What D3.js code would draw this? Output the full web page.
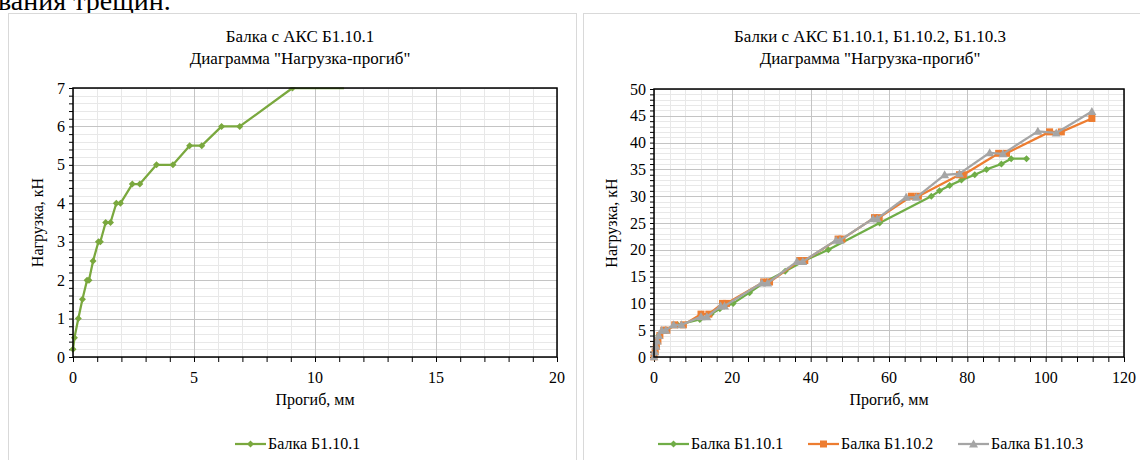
<!DOCTYPE html>
<html>
<head>
<meta charset="utf-8">
<script src="https://cdn.jsdelivr.net/npm/d3@7"></script>
<style>
body { margin: 0; background: #fff; }
svg { display: block; }
</style>
</head>
<body>
<svg width="1140" height="460" font-family="'Liberation Serif', 'DejaVu Serif', serif"></svg>
<script>
// Балка Б1.10.1 (left chart); the last point lies above the 7 kN axis limit
var leftDefl = [0, 0.06, 0.22, 0.39, 0.58, 0.66, 0.83, 1.05, 1.13, 1.35, 1.55, 1.79, 1.96, 2.45, 2.76, 3.45, 4.13, 4.82, 5.32, 6.14, 6.89, 9.07, 11.2];
var leftLoad = [0.2, 0.5, 1.0, 1.5, 2.0, 2.0, 2.5, 3.0, 3.0, 3.5, 3.5, 4.0, 4.0, 4.5, 4.5, 5.0, 5.0, 5.5, 5.5, 6.0, 6.0, 7.0, 7.5];

// right chart, three beams
var b1Defl = [0, 0.3, 0.6, 0.9, 1.2, 2.5, 6, 11.7, 14.6, 16.8, 20.2, 24.4, 28.3, 33.5, 38.5, 44.5, 57.6, 70.8, 72.9, 75.5, 78.5, 81.9, 84.9, 88.7, 91.2, 95.1];
var b1Load = [0, 1, 2, 3, 4, 5, 6, 7, 8, 9, 10, 12, 14, 16, 18, 20, 25, 30, 31, 32, 33, 34, 35, 36, 37, 37];

var b2Defl = [0, 0.3, 0.6, 1, 1.5, 2.5, 3.3, 5.3, 7.5, 12, 14, 17.5, 18.5, 28, 29.5, 37.2, 38.5, 47, 48, 56.3, 57.5, 65.7, 67.5, 78, 79, 88, 90, 101, 104, 111.8];
var b2Load = [0, 1, 2, 3, 4, 5, 5, 6, 6, 8, 8, 10, 10, 14, 14, 18, 18, 22, 22, 26, 26, 30, 30, 34, 34, 38, 38, 42, 42, 44.5];

var b3Defl = [0, 0.2, 0.5, 0.8, 1.2, 2, 3, 5, 7, 12, 13.5, 17, 18, 27.5, 29, 36.5, 38, 46.5, 47.5, 55.9, 57, 64.4, 67, 74.2, 78, 85.7, 89.1, 98, 102.7, 111.8];
var b3Load = [0, 1, 2, 3, 4, 5, 5, 6, 6, 7.5, 7.5, 9.5, 9.5, 13.8, 13.8, 17.8, 17.8, 21.8, 21.8, 25.8, 25.8, 29.8, 29.8, 34, 34.2, 38.1, 37.9, 42.1, 41.8, 45.8];

var leftXTicks = [0, 5, 10, 15, 20];
var leftYTicks = [0, 1, 2, 3, 4, 5, 6, 7];
var rightXTicks = [0, 20, 40, 60, 80, 100, 120];
var rightYTicks = [0, 5, 10, 15, 20, 25, 30, 35, 40, 45, 50];

var svg = d3.select("svg");

var zip = function(xs, ys) {
	return xs.map(function(x, i) { return [x, ys[i]]; });
}

// text cut off at the very top of the page
svg.append("text")
	.attr("x", -2).attr("y", 10)
	.attr("font-size", 28)
	.attr("fill", "#000")
	.text("вания трещин.");

var drawMarker = function(g, type, x, y, color) {
	if (type == "diamond") {
		g.append("path").attr("d", "M" + x + "," + (y - 3.5) + "L" + (x + 3.5) + "," + y + "L" + x + "," + (y + 3.5) + "L" + (x - 3.5) + "," + y + "Z")
			.attr("fill", color);
	} else if (type == "square") {
		g.append("rect").attr("x", x - 3.5).attr("y", y - 3.5).attr("width", 7).attr("height", 7).attr("fill", color);
	} else {
		g.append("path").attr("d", "M" + x + "," + (y - 4.5) + "L" + (x + 4.5) + "," + (y + 3.5) + "L" + (x - 4.5) + "," + (y + 3.5) + "Z")
			.attr("fill", color);
	}
}

var drawChart = function(cfg) {
	var g = svg.append("g");

	// chart frame
	g.append("rect")
		.attr("x", cfg.frame[0] + 0.5).attr("y", cfg.frame[1] + 0.5)
		.attr("width", cfg.frame[2]).attr("height", cfg.frame[3])
		.attr("fill", "#fff").attr("stroke", "#d9d9d9");

	var x = d3.scaleLinear().domain(cfg.xDomain).range([cfg.plot[0], cfg.plot[1]]);
	var y = d3.scaleLinear().domain(cfg.yDomain).range([cfg.plot[3], cfg.plot[2]]);
	var yc = y.copy().clamp(true);

	// minor grid
	var xMinor = d3.range(cfg.xDomain[0], cfg.xDomain[1] + 1e-9, cfg.xMinor);
	var yMinor = d3.range(cfg.yDomain[0], cfg.yDomain[1] + 1e-9, cfg.yMinor);

	g.append("g").selectAll("line").data(xMinor).enter().append("line")
		.attr("x1", function(d) { return Math.round(x(d)) + 0.5; })
		.attr("x2", function(d) { return Math.round(x(d)) + 0.5; })
		.attr("y1", cfg.plot[2]).attr("y2", cfg.plot[3])
		.attr("stroke", "#e8e8e8");
	g.append("g").selectAll("line").data(yMinor).enter().append("line")
		.attr("y1", function(d) { return Math.round(y(d)) + 0.5; })
		.attr("y2", function(d) { return Math.round(y(d)) + 0.5; })
		.attr("x1", cfg.plot[0]).attr("x2", cfg.plot[1])
		.attr("stroke", "#e8e8e8");

	// major grid
	g.append("g").selectAll("line").data(cfg.xTicks).enter().append("line")
		.attr("x1", function(d) { return Math.round(x(d)) + 0.5; })
		.attr("x2", function(d) { return Math.round(x(d)) + 0.5; })
		.attr("y1", cfg.plot[2]).attr("y2", cfg.plot[3])
		.attr("stroke", "#c4c4c4");
	g.append("g").selectAll("line").data(cfg.yTicks).enter().append("line")
		.attr("y1", function(d) { return Math.round(y(d)) + 0.5; })
		.attr("y2", function(d) { return Math.round(y(d)) + 0.5; })
		.attr("x1", cfg.plot[0]).attr("x2", cfg.plot[1])
		.attr("stroke", "#c4c4c4");

	// axes
	var xAxis = g.append("g")
		.attr("transform", "translate(0," + cfg.plot[3] + ")")
		.call(d3.axisBottom(x).tickValues(xMinor).tickSize(5).tickFormat(""));
	xAxis.select(".domain").remove();
	xAxis.selectAll("line").attr("stroke", "#000");

	var yAxis = g.append("g")
		.attr("transform", "translate(" + cfg.plot[0] + ",0)")
		.call(d3.axisLeft(y).tickValues(yMinor).tickSize(4).tickFormat(""));
	yAxis.select(".domain").remove();
	yAxis.selectAll("line").attr("stroke", "#000");

	g.append("g").selectAll("text").data(cfg.xTicks).enter().append("text")
		.attr("x", function(d) { return x(d); })
		.attr("y", cfg.plot[3] + 26)
		.attr("text-anchor", "middle")
		.attr("font-size", 16)
		.text(function(d) { return d; });
	g.append("g").selectAll("text").data(cfg.yTicks).enter().append("text")
		.attr("x", cfg.plot[0] - 8)
		.attr("y", function(d) { return y(d) + 5.5; })
		.attr("text-anchor", "end")
		.attr("font-size", 16)
		.text(function(d) { return d; });

	// series
	var clipId = "clip" + cfg.id;
	g.append("clipPath").attr("id", clipId).append("rect")
		.attr("x", cfg.plot[0] - 4).attr("y", cfg.plot[2] - 0.5)
		.attr("width", cfg.plot[1] - cfg.plot[0] + 4).attr("height", cfg.plot[3] - cfg.plot[2] + 4);

	var line = d3.line().x(function(d) { return x(d[0]); }).y(function(d) { return yc(d[1]); });
	var sg = g.append("g").attr("clip-path", "url(#" + clipId + ")");

	cfg.series.forEach(function(s) {
		var pts = zip(s.x, s.y);
		sg.append("path").datum(pts)
			.attr("d", line)
			.attr("fill", "none")
			.attr("stroke", s.color)
			.attr("stroke-width", 2.25)
			.attr("stroke-linejoin", "round");
		pts.forEach(function(p) {
			if (p[1] <= cfg.yDomain[1]) drawMarker(sg, s.marker, x(p[0]), y(p[1]), s.color);
		});
	});

	// plot border
	g.append("rect")
		.attr("x", cfg.plot[0]).attr("y", cfg.plot[2])
		.attr("width", cfg.plot[1] - cfg.plot[0]).attr("height", cfg.plot[3] - cfg.plot[2])
		.attr("fill", "none").attr("stroke", "#000").attr("stroke-width", 1.5);

	// titles
	var cx = (cfg.plot[0] + cfg.plot[1]) / 2;
	g.append("text").attr("x", cfg.titleX).attr("y", 42).attr("text-anchor", "middle")
		.attr("font-size", 17).text(cfg.title1);
	g.append("text").attr("x", cfg.titleX).attr("y", 64).attr("text-anchor", "middle")
		.attr("font-size", 17).text("Диаграмма \"Нагрузка-прогиб\"");

	g.append("text").attr("x", cx).attr("y", 405).attr("text-anchor", "middle")
		.attr("font-size", 16).text("Прогиб, мм");
	g.append("text")
		.attr("transform", "translate(" + cfg.yLabelX + "," + ((cfg.plot[2] + cfg.plot[3]) / 2) + ") rotate(-90)")
		.attr("text-anchor", "middle")
		.attr("font-size", 16).text("Нагрузка, кН");

	// legend
	cfg.series.forEach(function(s, i) {
		var lx = cfg.legendX[i];
		g.append("line").attr("x1", lx).attr("x2", lx + 31).attr("y1", 444).attr("y2", 444)
			.attr("stroke", s.color).attr("stroke-width", 2.25);
		drawMarker(g, s.marker, lx + 15.5, 444, s.color);
		g.append("text").attr("x", lx + 33).attr("y", 449).attr("font-size", 16).text(s.name);
	});
}

drawChart({
	id: 1,
	frame: [8, 13, 568, 460],
	plot: [73, 557, 88, 357],
	xDomain: [0, 20], yDomain: [0, 7],
	xTicks: leftXTicks, yTicks: leftYTicks,
	xMinor: 1, yMinor: 0.2,
	title1: "Балка с АКС Б1.10.1",
	titleX: 300,
	yLabelX: 43,
	legendX: [235],
	series: [
		{ name: "Балка Б1.10.1", x: leftDefl, y: leftLoad, color: "#7aa83e", marker: "diamond" }
	]
});

drawChart({
	id: 2,
	frame: [583, 13, 570, 460],
	plot: [654, 1124, 89, 357],
	xDomain: [0, 120], yDomain: [0, 50],
	xTicks: rightXTicks, yTicks: rightYTicks,
	xMinor: 4, yMinor: 1,
	title1: "Балки с АКС Б1.10.1, Б1.10.2, Б1.10.3",
	titleX: 870,
	yLabelX: 617,
	legendX: [658, 808, 958],
	series: [
		{ name: "Балка Б1.10.1", x: b1Defl, y: b1Load, color: "#70ad47", marker: "diamond" },
		{ name: "Балка Б1.10.2", x: b2Defl, y: b2Load, color: "#ed7d31", marker: "square" },
		{ name: "Балка Б1.10.3", x: b3Defl, y: b3Load, color: "#a5a5a5", marker: "triangle" }
	]
});
</script>
</body>
</html>
